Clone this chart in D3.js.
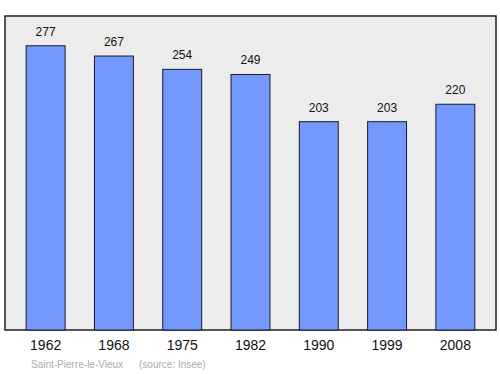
<!DOCTYPE html>
<html>
<head>
  <script src="https://d3js.org/d3.v7.min.js"></script>
  <style>
    body { margin: 0; background: #fff; }
    text { font-family: "Liberation Sans", Arial, sans-serif; }
  </style>
</head>
<body>
<div id="chart"></div>
<script>
  // population by census year
  const years = ["1962", "1968", "1975", "1982", "1990", "1999", "2008"];
  const population = [277, 267, 254, 249, 203, 203, 220];
  const caption = ["Saint-Pierre-le-Vieux", "(source: Insee)"];

  const width = 500, height = 374;
  const panel = { left: 5, right: 496, top: 16, bottom: 330 };

  const svg = d3.select("#chart").append("svg")
      .attr("width", width)
      .attr("height", height);

  const x = d3.scaleBand()
      .domain(years)
      .range([panel.left, panel.right])
      .paddingInner(0.43)
      .paddingOuter(0.31);

  // 0 sits on the panel bottom, ~1.025 px per inhabitant
  const y = d3.scaleLinear()
      .domain([0, 306])
      .range([panel.bottom, panel.top]);

  svg.append("rect")
      .attr("x", panel.left)
      .attr("y", panel.top)
      .attr("width", panel.right - panel.left)
      .attr("height", panel.bottom - panel.top)
      .attr("fill", "#ececec")
      .attr("stroke", "#222")
      .attr("stroke-width", 1.5);

  const data = years.map((yr, i) => ({ year: yr, value: population[i] }));

  svg.selectAll(".bar")
      .data(data)
      .enter()
      .append("rect")
      .attr("class", "bar")
      .attr("x", d => x(d.year))
      .attr("y", d => y(d.value))
      .attr("width", x.bandwidth())
      .attr("height", d => y(0) - y(d.value))
      .attr("fill", "#7399ff")
      .attr("stroke", "#1a1a2a")
      .attr("stroke-width", 1);

  svg.selectAll(".val")
      .data(data)
      .enter()
      .append("text")
      .attr("class", "val")
      .attr("x", d => x(d.year) + x.bandwidth() / 2)
      .attr("y", d => y(d.value) - 10)
      .attr("text-anchor", "middle")
      .attr("font-size", 12)
      .attr("fill", "#111")
      .text(d => d.value);

  // year labels, no axis line besides the panel edge
  const xAxis = d3.axisBottom(x).tickSize(0).tickPadding(10);
  const gx = svg.append("g")
      .attr("transform", `translate(0,${panel.bottom})`)
      .call(xAxis);
  gx.select(".domain").remove();
  gx.selectAll("text")
      .attr("font-size", 14)
      .attr("font-family", "Liberation Sans, Arial, sans-serif")
      .attr("fill", "#111");

  svg.append("text")
      .attr("x", 31)
      .attr("y", 368)
      .attr("font-size", 10)
      .attr("fill", "#aaa")
      .text(caption[0]);

  svg.append("text")
      .attr("x", 139)
      .attr("y", 368)
      .attr("font-size", 10)
      .attr("fill", "#aaa")
      .text(caption[1]);
</script>
</body>
</html>
